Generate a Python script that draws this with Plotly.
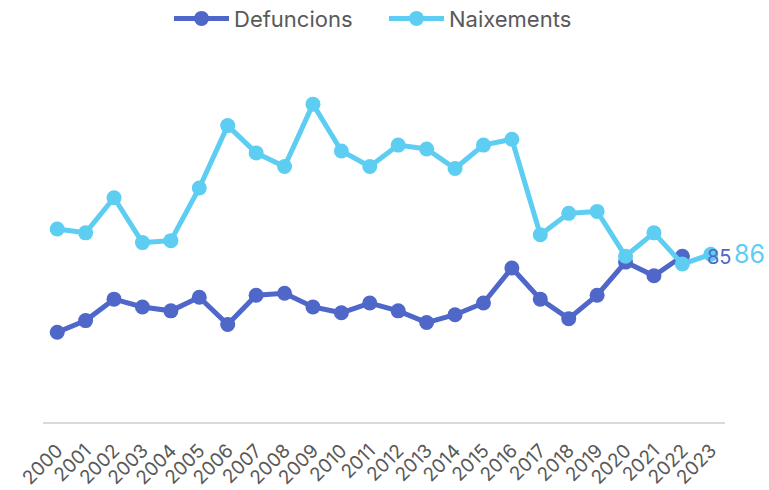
import plotly.graph_objects as go

years = [str(y) for y in range(2000, 2024)]
defuncions = [46, 52, 63, 59, 57, 64, 50, 65, 66, 59, 56, 61, 57, 51, 55, 61, 79, 63, 53, 65, 82, 75, 85, None]
naixements = [99, 97, 115, 92, 93, 120, 152, 138, 131, 163, 139, 131, 142, 140, 130, 142, 145, 96, 107, 108, 85, 97, 81, 86]

c_def = "#4E67C8"
c_nai = "#5DCEF2"
font_family = "Inter, 'Open Sans', sans-serif"

fig = go.Figure()
fig.add_trace(go.Scatter(x=years, y=defuncions, name="Defuncions", mode="lines+markers",
                         line=dict(color=c_def, width=5), marker=dict(size=15, color=c_def),
                         connectgaps=False))
fig.add_trace(go.Scatter(x=years, y=naixements, name="Naixements", mode="lines+markers",
                         line=dict(color=c_nai, width=5), marker=dict(size=15, color=c_nai)))

i_def = max(i for i, v in enumerate(defuncions) if v is not None)
i_nai = max(i for i, v in enumerate(naixements) if v is not None)
fig.add_annotation(x=i_def, y=defuncions[i_def], text=str(defuncions[i_def]), showarrow=False,
                   xanchor="left", xshift=23, yshift=-1,
                   font=dict(size=20, color=c_def, family=font_family))
fig.add_annotation(x=i_nai, y=naixements[i_nai], text=str(naixements[i_nai]), showarrow=False,
                   xanchor="left", xshift=21,
                   font=dict(size=25, color=c_nai, family=font_family))

fig.update_layout(
    width=769, height=490,
    margin=dict(l=43, r=44, t=71, b=68, autoexpand=False),
    plot_bgcolor="white", paper_bgcolor="white",
    font=dict(family=font_family, color="#595959"),
    showlegend=True,
    legend=dict(orientation="h", x=0.5, xanchor="center", y=0.962, yanchor="middle",
                yref="container", font=dict(size=22, color="#595959"), itemwidth=55,
                entrywidth=145, entrywidthmode="pixels"),
    xaxis=dict(type="category", range=[-0.5, 23.5], showline=True, linecolor="#D9D9D9",
               linewidth=2, showgrid=False, zeroline=False, ticks="", tickangle=-45,
               tickfont=dict(size=19, color="#595959"), ticklabelstandoff=8, automargin=False),
    yaxis=dict(range=[0, 180], visible=False, showgrid=False, zeroline=False, automargin=False),
)

fig.write_html("out.html", config={"displayModeBar": False},
               post_script="document.body.style.margin='0';document.body.style.overflow='hidden';")
